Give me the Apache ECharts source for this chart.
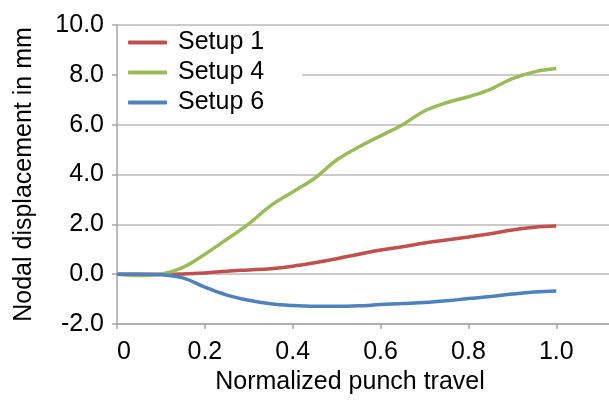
<!DOCTYPE html>
<html>
<head>
<meta charset="utf-8">
<script src="https://cdn.jsdelivr.net/npm/echarts@6/dist/echarts.min.js"></script>
<style>
    html, body { margin: 0; padding: 0; background: #fff; }
    #chart { width: 609px; height: 402px; }
</style>
</head>
<body>
<div id="chart"></div>
<script>
// punch travel (normalized) and nodal displacement in mm
var travel = [0, 0.05, 0.1, 0.15, 0.2, 0.25, 0.3, 0.35, 0.4, 0.45, 0.5, 0.55, 0.6, 0.65, 0.7, 0.75, 0.8, 0.85, 0.9, 0.95, 1.0];
var setup1 = [0, 0, 0, 0.01, 0.05, 0.12, 0.17, 0.22, 0.32, 0.46, 0.62, 0.8, 0.97, 1.1, 1.25, 1.37, 1.49, 1.62, 1.77, 1.88, 1.93];
var setup4 = [0, -0.05, 0, 0.27, 0.8, 1.4, 2.02, 2.75, 3.3, 3.85, 4.58, 5.1, 5.55, 6.0, 6.55, 6.88, 7.12, 7.42, 7.85, 8.12, 8.25];
var setup6 = [0, 0, -0.02, -0.15, -0.52, -0.84, -1.05, -1.19, -1.26, -1.29, -1.29, -1.27, -1.22, -1.18, -1.14, -1.07, -0.98, -0.9, -0.8, -0.72, -0.68];
var seriesNames = ['Setup 1', 'Setup 4', 'Setup 6'];
var colors = ['#c0504d', '#9bbb59', '#4f81bd'];

function pairs(ys) {
    return travel.map(function (x, i) { return [x, ys[i]]; });
}

var font = 'Liberation Sans, Arial, sans-serif';
var myChart = echarts.init(document.getElementById('chart'));

myChart.setOption({
    animation: false,
    textStyle: { fontFamily: font },
    grid: { left: 117, top: 25, right: 0, bottom: 78 },
    legend: {
        orient: 'vertical',
        left: 118,
        top: 28,
        padding: [2, 38, 8, 10],
        backgroundColor: '#fff',
        itemWidth: 39,
        itemHeight: 4,
        itemGap: 5,
        icon: 'roundRect',
        data: seriesNames,
        textStyle: { fontSize: 25, color: '#000', lineHeight: 25, padding: [0, 0, 0, 6], fontFamily: font }
    },
    xAxis: {
        type: 'value',
        min: 0,
        max: 1.12,
        interval: 0.2,
        name: 'Normalized punch travel',
        nameLocation: 'middle',
        nameGap: 46,
        nameTextStyle: { fontSize: 25, color: '#000', padding: [0, 26, 0, 0] },
        axisLine: { onZero: false, lineStyle: { color: '#a6a6a6', width: 1.5 } },
        axisTick: { show: true, length: 5, lineStyle: { color: '#a6a6a6', width: 1.5 } },
        splitLine: { show: false },
        axisLabel: {
            fontSize: 25,
            color: '#000',
            margin: 16,
            showMaxLabel: false,
            formatter: function (v) { return v === 0 ? '  0' : v.toFixed(1); }
        }
    },
    yAxis: {
        type: 'value',
        min: -2,
        max: 10,
        interval: 2,
        name: 'Nodal displacement in mm',
        nameLocation: 'middle',
        nameGap: 80,
        nameTextStyle: { fontSize: 25, color: '#000' },
        axisLine: { show: true, lineStyle: { color: '#a6a6a6', width: 1.5 } },
        axisTick: { show: true, length: 5, lineStyle: { color: '#a6a6a6', width: 1.5 } },
        splitLine: { lineStyle: { color: '#b8b8b8', width: 1.5 } },
        axisLabel: {
            fontSize: 25,
            color: '#000',
            margin: 13,
            formatter: function (v) { return v.toFixed(1); }
        }
    },
    series: [setup1, setup4, setup6].map(function (ys, i) {
        return {
            name: seriesNames[i],
            type: 'line',
            data: pairs(ys),
            smooth: 0.4,
            showSymbol: false,
            color: colors[i],
            lineStyle: { width: 3.5, color: colors[i] }
        };
    })
});
</script>
</body>
</html>
